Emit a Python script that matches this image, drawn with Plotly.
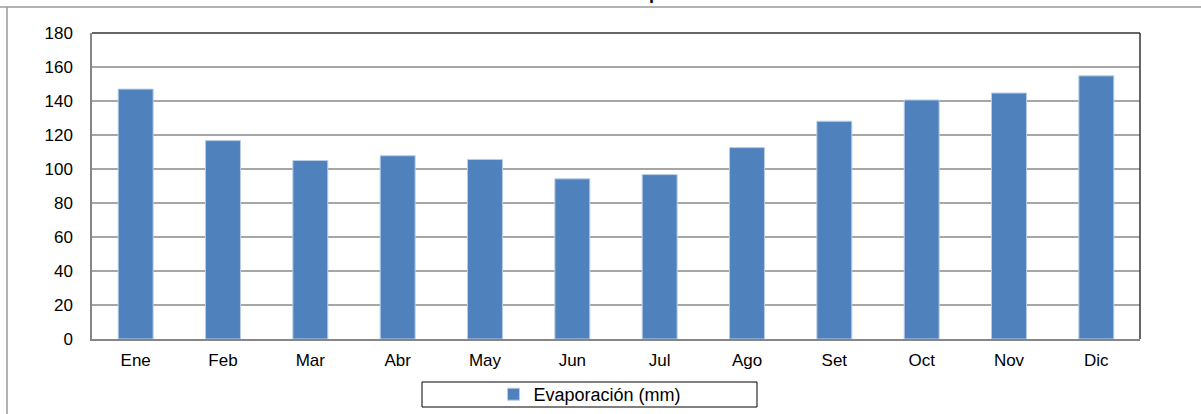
import plotly.graph_objects as go

# Monthly evaporation data (mm)
meses = ["Ene", "Feb", "Mar", "Abr", "May", "Jun",
         "Jul", "Ago", "Set", "Oct", "Nov", "Dic"]
evaporacion = [147.0, 116.7, 105.0, 107.8, 105.6, 94.2,
               96.7, 112.6, 128.1, 140.6, 144.7, 154.8]
y_ticks = [0, 20, 40, 60, 80, 100, 120, 140, 160, 180]

# Figure geometry (pixels). The bottom margin is kept at 0 and the plot
# area is lifted with the y-axis domain, so the legend below the bars
# sits inside the paper and does not push the margins around.
wfig, hfig = 1201, 414
margin = dict(l=92, r=61, t=33, b=0)
plot_bottom = 339
pw = wfig - margin["l"] - margin["r"]
ph = hfig - margin["t"] - margin["b"]


def px_x(p):
    return (p - margin["l"]) / pw


def px_y(p):
    return (hfig - margin["b"] - p) / ph


font = dict(family="Liberation Sans, Arial, sans-serif", size=17, color="#000000")

fig = go.Figure()
fig.add_trace(
    go.Bar(
        x=meses,
        y=evaporacion,
        name="Evaporación (mm)",
        marker=dict(color="#4F81BD", line=dict(color="#B9CDE5", width=1)),
    )
)

shapes = [
    # outer chart frame (top and left edges visible)
    dict(type="line", xref="paper", yref="paper",
         x0=px_x(-5), x1=px_x(1210), y0=px_y(7), y1=px_y(7),
         line=dict(color="#9A9A9A", width=1.5)),
    dict(type="line", xref="paper", yref="paper",
         x0=px_x(7), x1=px_x(7), y0=px_y(7), y1=px_y(420),
         line=dict(color="#9A9A9A", width=1.5)),
    # plot area top and right borders
    dict(type="line", xref="x domain", yref="y domain",
         x0=0, x1=1, y0=1, y1=1, line=dict(color="#333333", width=1.5)),
    dict(type="line", xref="x domain", yref="y domain",
         x0=1, x1=1, y0=0, y1=1, line=dict(color="#333333", width=1.5)),
    # legend box
    dict(type="rect", xref="paper", yref="paper",
         x0=px_x(422), x1=px_x(757), y0=px_y(407), y1=px_y(382),
         line=dict(color="#000000", width=1), fillcolor="#FFFFFF", layer="below"),
]

fig.update_layout(
    width=wfig,
    height=hfig,
    margin=margin,
    paper_bgcolor="#FFFFFF",
    plot_bgcolor="#FFFFFF",
    font=font,
    bargap=0.6,
    showlegend=True,
    legend=dict(
        orientation="h",
        x=px_x(590), xanchor="center",
        y=px_y(394.5), yanchor="middle",
        bgcolor="rgba(0,0,0,0)",
        borderwidth=0,
        font=dict(family="Liberation Sans, Arial, sans-serif", size=18, color="#000000"),
        itemclick=False,
    ),
    shapes=shapes,
    annotations=[
        dict(text="<b>Evaporación</b>", xref="paper", yref="paper",
             x=px_x(671), y=px_y(5), xanchor="center", yanchor="bottom",
             showarrow=False,
             font=dict(family="Liberation Sans, Arial, sans-serif", size=18, color="#000000")),
    ],
)

fig.update_xaxes(
    showline=True, linecolor="#868686", linewidth=1.5,
    showgrid=False, ticks="", ticklabelstandoff=5,
    tickfont=font, automargin=False,
)
fig.update_yaxes(
    domain=[px_y(plot_bottom), 1],
    range=[0, 180], tickvals=y_ticks,
    showline=True, linecolor="#868686", linewidth=1.5,
    showgrid=True, gridcolor="#A6A6A6", gridwidth=1.5,
    zeroline=False, ticks="", ticklabelstandoff=14,
    tickfont=font, automargin=False,
)

# drop the browser's default body margin so the figure sits at the page corner
fig.write_html(
    "out.html",
    config={"displayModeBar": False},
    post_script="document.body.style.margin='0';",
)
